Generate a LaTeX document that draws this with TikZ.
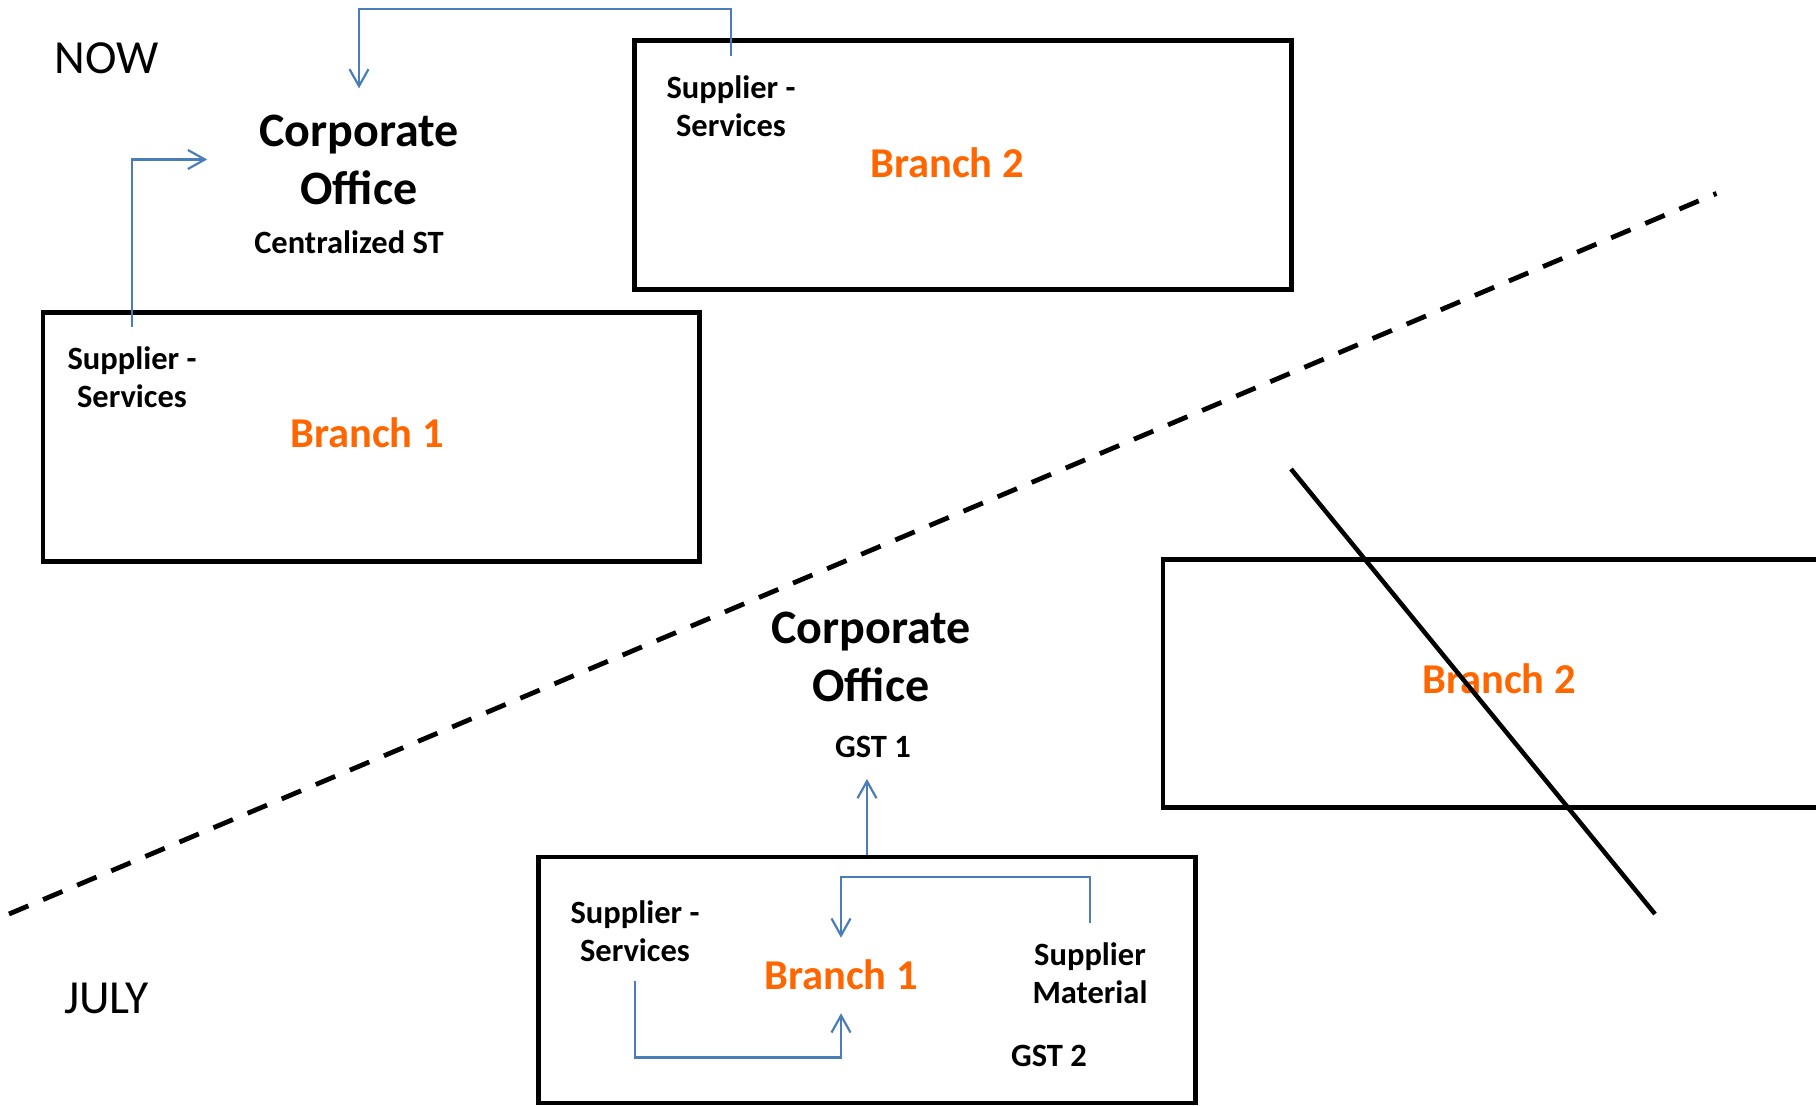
\documentclass[tikz,border=0pt]{standalone}
\usepackage{fontspec}
\setmainfont{Carlito}
\usetikzlibrary{arrows.meta,calc}
\definecolor{branchorange}{RGB}{255,102,0}
\definecolor{linkblue}{RGB}{74,126,187}
\tikzset{
  unitbox/.style={draw=black, line width=4.5pt, minimum width=656.7pt, minimum height=249pt, inner sep=0pt},
  title/.style={font=\fontsize{48}{58}\selectfont\bfseries, align=center, inner sep=0pt},
  smalltag/.style={font=\fontsize{32.5}{38.3}\selectfont\bfseries, align=center, inner sep=0pt},
  branchname/.style={font=\fontsize{42.5}{50}\selectfont\bfseries, text=branchorange, inner sep=0pt},
  period/.style={font=\fontsize{47.5}{56}\selectfont, inner sep=0pt},
  link/.style={draw=linkblue, line width=2.2pt, -{Straight Barb[length=17pt,width=19pt]}},
  divider/.style={line width=4.8pt, dash pattern=on 21pt off 16pt},
  strike/.style={line width=4.5pt},
}
\begin{document}
\begin{tikzpicture}[x=1pt,y=-1pt]
\useasboundingbox (0,0) rectangle (1816,1106);
\clip (0,0) rectangle (1816,1106);

% period headings
\node[period] (now) at (106.5,58) {NOW};
\node[period] (july) at (106.5,998.5) {JULY};

% current set-up: centralized service tax
\node[title] (co1) at (359,159.5) {Corporate\\Office};
\node[smalltag] (cst) at (349,242) {Centralized ST};
\node[unitbox] (b2top) at (963,165) {};
\node[smalltag] (ss2) at (731,106) {Supplier -\\Services};
\node[branchname] (br2top) at (947,163) {Branch 2};
\node[unitbox] (b1top) at (371.3,437.2) {};
\node[smalltag] (ss1) at (132,377) {Supplier -\\Services};
\node[branchname] (br1top) at (367,433) {Branch 1};

\coordinate (railtop) at (0,9.3);
\draw[link, shorten <=19pt, shorten >=26pt] (ss2.north) -- (ss2.north |- railtop) -| (co1.north);
\draw[link, shorten <=19pt, shorten >=52pt] (ss1.north) |- (co1.west);

% dividing line between the two periods
\coordinate (cutA) at (9,914);
\coordinate (cutB) at (1716.5,193.4);
\draw[divider] (cutA) -- (cutB);

% from July: GST registration per branch
\node[title] (co2) at (871,656.7) {Corporate\\Office};
\node[smalltag] (gst1) at (873,747) {GST 1};
\node[unitbox, minimum height=246pt] (b1bot) at (867,980) {};
\node[smalltag] (ss3) at (635,931) {Supplier -\\Services};
\node[branchname] (br1bot) at (841,975) {Branch 1};
\node[smalltag] (sm) at (1090,973.3) {Supplier\\Material};
\node[smalltag] (gst2) at (1049,1056) {GST 2};
\node[unitbox, minimum height=248pt] (b2bot) at (1491.5,683.4) {};
\node[branchname] (br2bot) at (1499,678.7) {Branch 2};

% Branch 2 struck out
\coordinate (xA) at (1291,469);
\coordinate (xB) at (1655,914);
\draw[strike] (xA) -- (xB);

\draw[link, shorten >=21pt] (b1bot.north) -- (b1bot.north |- gst1.south);
\coordinate (railbot) at (0,1057.4);
\draw[link, shorten <=18.7pt, shorten >=23pt] (ss3.south) -- (ss3.south |- railbot) -| (br1bot.south);
\coordinate (railmid) at (0,876.8);
\draw[link, shorten <=19pt, shorten >=22pt] (sm.north) -- (sm.north |- railmid) -| (br1bot.north);
\end{tikzpicture}
\end{document}
